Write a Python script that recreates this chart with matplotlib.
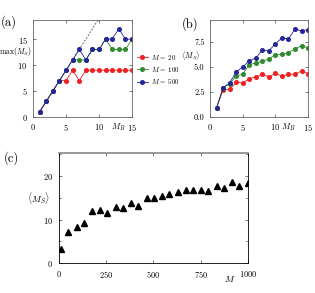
import numpy as np
import matplotlib
matplotlib.use("Agg")
import matplotlib.pyplot as plt
from matplotlib.ticker import MultipleLocator

plt.rcParams['font.family'] = 'cmr10'
plt.rcParams['mathtext.fontset'] = 'cm'
plt.rcParams['axes.formatter.use_mathtext'] = True
plt.rcParams['font.size'] = 6

# panel (a) / (b) data
mb = np.arange(1, 16)
max_20 = [1, 3, 5, 7, 7, 9, 7, 9, 9, 9, 9, 9, 9, 9, 9]
max_100 = [1, 3, 5, 7, 9, 11, 11, 11, 13, 13, 15, 13, 13, 13, 15]
max_500 = [1, 3, 5, 7, 9, 11, 13, 11, 13, 13, 15, 15, 17, 15, 15]

avg_20 = [0.93, 2.73, 2.75, 3.47, 3.4, 3.83, 4.0, 4.27, 4.0, 4.37, 4.07, 4.27, 4.27, 4.6, 4.33]
avg_100 = [0.93, 2.9, 3.33, 4.1, 4.27, 5.23, 5.4, 5.57, 5.8, 6.23, 6.27, 6.43, 6.8, 7.13, 6.9]
avg_500 = [0.93, 2.93, 3.43, 4.5, 5.0, 5.6, 5.9, 6.67, 6.6, 7.33, 7.9, 7.8, 8.8, 8.6, 8.73]

# panel (c) data
m_vals = [10, 50, 95, 135, 175, 215, 255, 300, 340, 380, 420, 465, 505,
          545, 585, 630, 670, 710, 750, 790, 835, 875, 915, 955, 1000]
avg_ms = [3.3, 7.2, 8.2, 9.3, 11.9, 12.2, 11.5, 12.8, 12.7, 13.9, 13.1, 15.0, 14.9,
          15.3, 15.8, 16.3, 16.7, 16.7, 16.9, 16.6, 17.7, 17.2, 18.6, 17.6, 18.5]

labels = [r"$M\,=\,20$", r"$M\,=\,100$", r"$M\,=\,500$"]
colors = ["#f02020", "#2e8b2e", "#262696"]

fig = plt.figure(figsize=(3.15, 2.93), dpi=100)
ax_a = fig.add_axes([0.105, 0.601, 0.314, 0.331])
ax_b = fig.add_axes([0.667, 0.601, 0.311, 0.331])
ax_c = fig.add_axes([0.187, 0.102, 0.600, 0.376])


def style(ax, spine_col="#666666"):
    ax.tick_params(direction="in", top=True, right=True, length=2.5, width=0.5,
                   pad=4, labelsize=6, colors="#444444", labelcolor="black")
    ax.tick_params(which="minor", direction="in", top=True, right=True, length=1.5, width=0.4)
    for s in ax.spines.values():
        s.set_linewidth(0.6)
        s.set_color(spine_col)


# (a)
ax_a.plot(mb, 2 * mb - 1, ls=(0, (2, 2)), color="#444444", lw=0.6)
for ys, c, lab in zip([max_20, max_100, max_500], colors, labels):
    ax_a.plot(mb, ys, "-o", color=c, ms=2.6, lw=0.6, label=lab)
ax_a.set_xlim(0, 15)
ax_a.set_ylim(0, 18.7)
ax_a.xaxis.set_major_locator(MultipleLocator(5))
ax_a.yaxis.set_major_locator(MultipleLocator(5))
style(ax_a)
ax_a.text(-0.18, 0.67, r"max$(M_S)$", transform=ax_a.transAxes,
          ha="center", va="center", fontsize=5.5)
ax_a.text(0.86, -0.11, "$M_B$", transform=ax_a.transAxes,
          ha="center", va="center", fontsize=6)
ax_a.legend(loc="center left", bbox_to_anchor=(1.0, 0.49), frameon=False,
            fontsize=5, handlelength=1.6, handletextpad=0.5, labelspacing=0.45,
            borderaxespad=0.3)
fig.text(0.003, 0.925, "(a)", fontsize=9, va="center")

# (b)
for ys, c in zip([avg_20, avg_100, avg_500], colors):
    ax_b.plot(mb, ys, "-o", color=c, ms=2.6, lw=0.6)
ax_b.set_xlim(0, 15)
ax_b.set_ylim(0, 9.7)
ax_b.xaxis.set_major_locator(MultipleLocator(5))
ax_b.yaxis.set_major_locator(MultipleLocator(2.5))
ax_b.yaxis.set_major_formatter(matplotlib.ticker.FormatStrFormatter("%.1f"))
style(ax_b)
ax_b.text(-0.2, 0.635, r"$\langle M_S\rangle$", transform=ax_b.transAxes,
          ha="center", va="center", fontsize=5.5)
ax_b.text(0.80, -0.11, "$M_B$", transform=ax_b.transAxes,
          ha="center", va="center", fontsize=6)
fig.text(0.578, 0.918, "(b)", fontsize=9, va="center")

# (c)
ax_c.plot(m_vals, avg_ms, "^", color="black", ms=4.5)
ax_c.set_xlim(0, 1000)
ax_c.set_ylim(0, 25.3)
ax_c.xaxis.set_major_locator(MultipleLocator(250))
ax_c.yaxis.set_major_locator(MultipleLocator(10))
ax_c.yaxis.set_minor_locator(MultipleLocator(5))
style(ax_c, spine_col="black")
ax_c.spines["top"].set_color("#888888")
ax_c.spines["top"].set_linewidth(1.2)
ax_c.text(-0.11, 0.59, r"$\langle M_S\rangle$", transform=ax_c.transAxes,
          ha="center", va="center", fontsize=6.5)
ax_c.text(0.905, -0.14, "$M$", transform=ax_c.transAxes,
          ha="center", va="center", fontsize=6.5)
fig.text(0.012, 0.462, "(c)", fontsize=9, va="center")

fig.savefig("out.png", dpi=100)
